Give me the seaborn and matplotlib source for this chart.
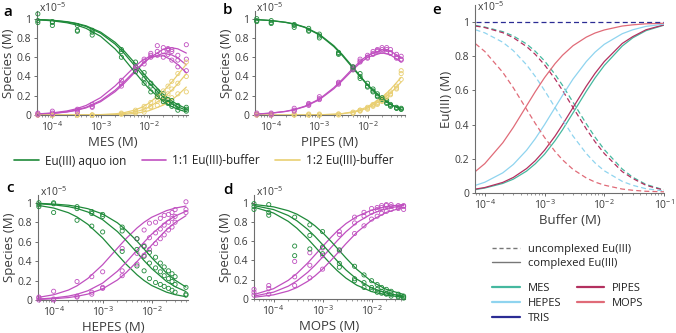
import numpy as np
import pandas as pd
import matplotlib
matplotlib.use("Agg")
import matplotlib.pyplot as plt
import seaborn as sns
from matplotlib.lines import Line2D

sns.set_theme(style="ticks")
plt.rcParams['font.family'] = ['Open Sans', 'DejaVu Sans']
plt.rcParams['mathtext.default'] = 'regular'

# colours
c_free = '#1f8a3a'
c_11 = '#c050c0'
c_12 = '#e9cf72'
c_mes = '#45b89f'
c_hepes = '#8fd4ef'
c_tris = '#2b2c94'
c_pipes = '#b3305f'
c_mops = '#e06b78'

# ---- a: MES ----
mes_x = [5e-5, 1e-4, 3.3e-4, 6.7e-4, 2.7e-3, 5.3e-3, 8e-3, 1.1e-2, 1.5e-2, 2e-2, 2.5e-2, 3e-2, 4e-2, 6e-2]
mes_free = [[1.05, 0.97, 0.93, 0.88, 0.68, 0.55, 0.44, 0.33, 0.25, 0.22, 0.16, 0.15, 0.10, 0.08],
            [0.98, 0.96, 0.88, 0.86, 0.66, 0.50, 0.38, 0.30, 0.24, 0.17, 0.13, 0.11, 0.09, 0.06],
            [0.96, 0.93, 0.87, 0.83, 0.60, 0.45, 0.33, 0.24, 0.19, 0.14, 0.12, 0.09, 0.05, 0.04]]
mes_11 = [[0.02, 0.04, 0.06, 0.11, 0.33, 0.47, 0.56, 0.62, 0.72, 0.70, 0.69, 0.68, 0.62, 0.73],
          [0.01, 0.02, 0.05, 0.09, 0.30, 0.45, 0.53, 0.60, 0.66, 0.66, 0.68, 0.66, 0.57, 0.58],
          [0.00, 0.01, 0.03, 0.08, 0.36, 0.50, 0.58, 0.64, 0.62, 0.60, 0.63, 0.57, 0.50, 0.46]]
mes_12 = [[0.00, 0.00, 0.00, 0.00, 0.01, 0.02, 0.03, 0.08, 0.10, 0.13, 0.15, 0.18, 0.22, 0.24],
          [0.00, 0.00, 0.00, 0.00, 0.01, 0.03, 0.06, 0.09, 0.14, 0.18, 0.22, 0.27, 0.33, 0.40],
          [0.00, 0.00, 0.00, 0.00, 0.02, 0.05, 0.09, 0.13, 0.19, 0.25, 0.30, 0.35, 0.43, 0.55]]
mes_fx = [5e-5, 1e-4, 2e-4, 3e-4, 5e-4, 1e-3, 2e-3, 3e-3, 5e-3, 7e-3, 1e-2, 2e-2, 3e-2, 4e-2, 6e-2]
mes_fit_free = [[.992, .984, .969, .954, .926, .861, .755, .671, .546, .459, .368, .214, .145, .107, .067],
                [.991, .983, .966, .950, .919, .849, .736, .647, .517, .427, .334, .183, .119, .084, .050],
                [.989, .978, .958, .938, .900, .817, .686, .588, .452, .363, .275, .140, .087, .059, .033]]
mes_fit_11 = [[.008, .016, .031, .046, .074, .138, .242, .322, .437, .514, .588, .684, .698, .687, .643],
              [.009, .017, .034, .050, .080, .149, .257, .339, .452, .523, .585, .641, .624, .591, .521],
              [.011, .022, .042, .062, .099, .180, .302, .388, .498, .559, .604, .615, .571, .523, .439]]
mes_fit_12 = [[0, 0, 0, 0, 0, .001, .004, .007, .016, .027, .044, .103, .157, .206, .290],
              [0, 0, 0, 0, .001, .002, .007, .014, .031, .050, .080, .176, .257, .324, .429],
              [0, 0, 0, 0, .001, .004, .012, .023, .050, .078, .121, .246, .343, .418, .527]]

# ---- b: PIPES ----
pipes_x = [5e-5, 1e-4, 3e-4, 6e-4, 1e-3, 2.5e-3, 5e-3, 7e-3, 1e-2, 1.3e-2, 1.6e-2, 2e-2, 2.5e-2, 3e-2, 4e-2, 5e-2]
pipes_free = [[1.00, 0.98, 0.94, 0.90, 0.84, 0.64, 0.49, 0.43, 0.33, 0.27, 0.22, 0.17, 0.13, 0.09, 0.07, 0.06],
              [0.98, 0.96, 0.93, 0.88, 0.82, 0.65, 0.47, 0.40, 0.30, 0.25, 0.20, 0.16, 0.15, 0.11, 0.08, 0.07],
              [0.97, 0.95, 0.91, 0.87, 0.80, 0.63, 0.50, 0.38, 0.29, 0.24, 0.19, 0.18, 0.12, 0.10, 0.07, 0.06]]
pipes_11 = [[0.02, 0.02, 0.07, 0.12, 0.19, 0.34, 0.48, 0.58, 0.62, 0.66, 0.68, 0.70, 0.70, 0.68, 0.63, 0.61],
            [0.00, 0.01, 0.05, 0.10, 0.17, 0.32, 0.50, 0.55, 0.60, 0.64, 0.66, 0.68, 0.66, 0.64, 0.60, 0.58],
            [0.01, 0.00, 0.04, 0.11, 0.16, 0.33, 0.47, 0.56, 0.59, 0.63, 0.67, 0.66, 0.68, 0.65, 0.59, 0.57]]
pipes_12 = [[0.00, 0.01, 0.01, 0.00, 0.00, 0.01, 0.03, 0.05, 0.07, 0.10, 0.13, 0.15, 0.20, 0.24, 0.30, 0.46],
            [0.01, 0.00, 0.00, 0.01, 0.00, 0.01, 0.02, 0.04, 0.08, 0.11, 0.12, 0.17, 0.18, 0.22, 0.28, 0.43],
            [0.00, 0.00, 0.00, 0.00, 0.01, 0.00, 0.02, 0.05, 0.06, 0.09, 0.11, 0.14, 0.19, 0.21, 0.27, 0.37]]
fit_x = [5e-5, 1e-4, 2e-4, 3e-4, 5e-4, 1e-3, 2e-3, 3e-3, 5e-3, 7e-3, 1e-2, 2e-2, 3e-2, 5e-2]
pipes_fit_free = [[.990, .980, .961, .943, .909, .832, .710, .617, .486, .398, .310, .169, .110, .060],
                  [.991, .981, .963, .946, .913, .838, .719, .627, .496, .406, .315, .170, .110, .058]]
pipes_fit_11 = [[.010, .020, .038, .057, .091, .166, .284, .370, .486, .557, .619, .676, .662, .597],
                [.009, .019, .037, .054, .087, .159, .273, .358, .471, .540, .599, .646, .624, .551]]
pipes_fit_12 = [[0, 0, 0, 0, .001, .002, .007, .013, .028, .045, .071, .155, .228, .343],
                [0, 0, 0, 0, .001, .002, .008, .015, .033, .054, .085, .184, .266, .391]]

# ---- c: HEPES ----
hepes_x = [5e-5, 1e-4, 3e-4, 6e-4, 1e-3, 2.5e-3, 5e-3, 7e-3, 9e-3, 1.2e-2, 1.5e-2, 1.8e-2, 2.2e-2, 2.6e-2, 3e-2, 5e-2]
hepes_free = [[0.96, 0.90, 0.82, 0.76, 0.70, 0.50, 0.35, 0.30, 0.22, 0.18, 0.16, 0.14, 0.12, 0.10, 0.08, 0.05],
              [0.98, 0.99, 0.94, 0.89, 0.86, 0.71, 0.52, 0.45, 0.38, 0.33, 0.29, 0.25, 0.22, 0.19, 0.16, 0.06],
              [1.00, 1.00, 0.96, 0.91, 0.88, 0.75, 0.63, 0.55, 0.49, 0.44, 0.38, 0.34, 0.30, 0.27, 0.24, 0.13]]
hepes_11 = [[0.03, 0.09, 0.19, 0.24, 0.29, 0.53, 0.63, 0.72, 0.79, 0.80, 0.84, 0.87, 0.88, 0.90, 0.93, 1.01],
            [0.02, 0.01, 0.04, 0.08, 0.13, 0.30, 0.48, 0.56, 0.64, 0.69, 0.73, 0.77, 0.80, 0.84, 0.86, 0.93],
            [0.00, 0.00, 0.03, 0.06, 0.12, 0.25, 0.37, 0.46, 0.52, 0.58, 0.63, 0.67, 0.72, 0.75, 0.80, 0.90]]
hepes_fit_free = [[.972, .946, .898, .854, .778, .637, .467, .369, .260, .200, .149, .081, .055, .034],
                  [.990, .979, .960, .941, .905, .826, .704, .613, .488, .405, .323, .192, .137, .087],
                  [.994, .987, .975, .962, .939, .885, .794, .719, .606, .524, .435, .278, .204, .133]]
hepes_fit_11 = [[.028, .054, .102, .146, .222, .363, .533, .631, .740, .800, .851, .919, .945, .966],
                [.010, .021, .040, .059, .095, .174, .296, .387, .512, .595, .677, .808, .863, .913],
                [.006, .013, .025, .038, .061, .115, .206, .281, .394, .476, .565, .722, .796, .867]]

# ---- d: MOPS ----
mops_x = [4e-5, 8e-5, 2.7e-4, 5.5e-4, 1e-3, 2.2e-3, 4.5e-3, 7e-3, 1e-2, 1.3e-2, 1.6e-2, 2e-2, 2.5e-2, 3.5e-2, 4.5e-2]
mops_free = [[0.93, 0.87, 0.45, 0.52, 0.47, 0.33, 0.19, 0.12, 0.10, 0.07, 0.06, 0.05, 0.03, 0.02, 0.01],
             [0.96, 0.90, 0.55, 0.66, 0.54, 0.37, 0.21, 0.17, 0.12, 0.10, 0.08, 0.06, 0.05, 0.03, 0.02],
             [0.99, 0.98, 0.85, 0.77, 0.70, 0.51, 0.34, 0.25, 0.19, 0.15, 0.12, 0.10, 0.08, 0.05, 0.03]]
mops_11 = [[0.10, 0.14, 0.39, 0.48, 0.53, 0.70, 0.85, 0.90, 0.94, 0.95, 0.97, 0.98, 0.98, 0.95, 0.97],
           [0.07, 0.11, 0.23, 0.35, 0.45, 0.67, 0.79, 0.86, 0.90, 0.93, 0.95, 0.97, 0.96, 0.97, 0.93],
           [0.04, 0.05, 0.14, 0.22, 0.31, 0.50, 0.68, 0.76, 0.83, 0.86, 0.89, 0.91, 0.93, 0.94, 0.96]]
mops_fx = [4e-5, 1e-4, 2e-4, 3e-4, 5e-4, 7e-4, 1e-3, 1.5e-3, 2e-3, 3e-3, 5e-3, 1e-2, 2e-2, 4.5e-2]
mops_fit_free = [[.954, .893, .806, .735, .625, .543, .455, .357, .294, .217, .143, .077, .040, .018],
                 [.970, .929, .867, .812, .722, .650, .565, .464, .394, .302, .206, .115, .061, .028],
                 [.982, .957, .917, .881, .816, .760, .690, .597, .526, .426, .308, .182, .100, .047]]
mops_fit_11 = [[.046, .107, .194, .265, .375, .457, .545, .643, .706, .783, .857, .923, .960, .982],
               [.030, .071, .133, .188, .278, .350, .435, .536, .606, .698, .794, .885, .939, .972],
               [.018, .043, .083, .119, .184, .240, .310, .403, .474, .574, .692, .818, .900, .953]]

# ---- e: all buffers ----
buf_x = [7e-5, 1e-4, 2e-4, 3e-4, 5e-4, 7e-4, 1e-3, 1.5e-3, 2e-3, 3e-3, 5e-3, 7e-3, 1e-2, 2e-2, 3e-2, 5e-2, 1e-1]
buf_names = ['MES', 'PIPES', 'HEPES', 'MOPS', 'TRIS']
buf_uncomplexed = [
    [.980, .971, .944, .919, .872, .829, .773, .694, .630, .531, .405, .327, .254, .140, .092, .050, .018],
    [.977, .968, .938, .909, .857, .811, .750, .667, .600, .500, .375, .300, .231, .125, .085, .045, .016],
    [.955, .937, .882, .833, .750, .682, .600, .500, .429, .333, .231, .176, .130, .068, .045, .025, .012],
    [.873, .828, .706, .616, .490, .407, .325, .243, .194, .138, .088, .064, .046, .023, .016, .010, .007],
    [1.0, 1.0, 1.0, 1.0, 1.0, 1.0, 1.0, 1.0, 1.0, 1.0, 1.0, 1.0, 1.0, 1.0, 1.0, 1.0, 1.0]]
buf_complexed = [
    [.020, .029, .056, .081, .128, .171, .227, .306, .370, .469, .595, .673, .746, .860, .908, .950, .982],
    [.023, .032, .062, .091, .143, .189, .250, .333, .400, .500, .625, .700, .769, .875, .915, .955, .984],
    [.045, .063, .118, .167, .250, .318, .400, .500, .571, .667, .769, .824, .870, .932, .955, .975, .988],
    [.127, .172, .294, .384, .510, .593, .675, .757, .806, .862, .912, .936, .954, .977, .984, .990, .993],
    None]
buf_colors = [c_mes, c_pipes, c_hepes, c_mops, c_tris]

dec_ticks = [1e-4, 1e-3, 1e-2]
dec_labels = ['10$^{-4}$', '10$^{-3}$', '10$^{-2}$']
y_ticks = [0, 0.2, 0.4, 0.6, 0.8, 1.0]
y_labels = ['0', '0.2', '0.4', '0.6', '0.8', '1']

spine_col = '#6e6e6e'
text_col = '#3c3c3c'

fig = plt.figure(figsize=(6.76, 3.33), dpi=100)
W, H = 676.0, 333.0


def px_axes(l, t, r, b):
    return fig.add_axes([l / W, 1 - b / H, (r - l) / W, (b - t) / H])


def style(ax, xlabel, xlim, ylabel, ytop, xt, xl):
    ax.set_xscale('log')
    ax.set_xlim(*xlim)
    ax.set_ylim(0, ytop)
    ax.set_xticks(xt)
    ax.set_xticklabels(xl)
    ax.set_yticks(y_ticks)
    ax.set_yticklabels(y_labels)
    ax.set_xlabel(xlabel, fontsize=9.5, color=text_col, labelpad=1)
    ax.set_ylabel(ylabel, fontsize=9.5, color=text_col, labelpad=1)
    for s in ['top', 'right']:
        ax.spines[s].set_visible(False)
    for s in ['left', 'bottom']:
        ax.spines[s].set_color(spine_col)
        ax.spines[s].set_linewidth(0.8)
    ax.tick_params(axis='both', which='major', labelsize=7.5, colors=spine_col,
                   labelcolor=text_col, length=2, width=0.7, pad=2, direction='out')
    ax.tick_params(axis='x', which='minor', length=1.5, width=0.5, colors=spine_col, direction='out')
    ax.grid(False)


def curve(ax, x, y, color, ls='-'):
    sns.lineplot(x=x, y=y, ax=ax, color=color, lw=0.9, linestyle=ls)


def dots(ax, x, y, color):
    sns.scatterplot(x=x, y=y, ax=ax, color=color, facecolors='none', edgecolor=color,
                    s=9, linewidth=0.6, clip_on=False, zorder=3)


ax_a = px_axes(37, 11, 188, 115)
ax_b = px_axes(255, 11, 405, 115)
ax_c = px_axes(38, 195, 188, 300)
ax_d = px_axes(254, 195, 405, 299)
ax_e = px_axes(475, 5, 664, 193)

# a
for k in range(3):
    curve(ax_a, mes_fx, mes_fit_12[k], c_12)
    curve(ax_a, mes_fx, mes_fit_11[k], c_11)
    curve(ax_a, mes_fx, mes_fit_free[k], c_free)
    dots(ax_a, mes_x, mes_12[k], c_12)
    dots(ax_a, mes_x, mes_11[k], c_11)
    dots(ax_a, mes_x, mes_free[k], c_free)
style(ax_a, 'MES (M)', (4.8e-5, 6.5e-2), 'Species (M)', 1.08, dec_ticks, dec_labels)

# b
for k in range(2):
    curve(ax_b, fit_x, pipes_fit_12[k], c_12)
    curve(ax_b, fit_x, pipes_fit_11[k], c_11)
    curve(ax_b, fit_x, pipes_fit_free[k], c_free)
for k in range(3):
    dots(ax_b, pipes_x, pipes_12[k], c_12)
    dots(ax_b, pipes_x, pipes_11[k], c_11)
    dots(ax_b, pipes_x, pipes_free[k], c_free)
style(ax_b, 'PIPES (M)', (4.6e-5, 6e-2), 'Species (M)', 1.08, dec_ticks, dec_labels)

# c
for k in range(3):
    curve(ax_c, fit_x, hepes_fit_11[k], c_11)
    curve(ax_c, fit_x, hepes_fit_free[k], c_free)
    dots(ax_c, hepes_x, hepes_11[k], c_11)
    dots(ax_c, hepes_x, hepes_free[k], c_free)
style(ax_c, 'HEPES (M)', (4.8e-5, 5.5e-2), 'Species (M)', 1.08, dec_ticks, dec_labels)

# d
for k in range(3):
    curve(ax_d, mops_fx, mops_fit_11[k], c_11)
    curve(ax_d, mops_fx, mops_fit_free[k], c_free)
    dots(ax_d, mops_x, mops_11[k], c_11)
    dots(ax_d, mops_x, mops_free[k], c_free)
style(ax_d, 'MOPS (M)', (4e-5, 4.8e-2), 'Species (M)', 1.08, dec_ticks, dec_labels)

# e
for name, col, unc, cpx in zip(buf_names, buf_colors, buf_uncomplexed, buf_complexed):
    curve(ax_e, buf_x, unc, col, ls=(0, (4, 2.5)))
    if cpx is not None:
        curve(ax_e, buf_x, cpx, col)
style(ax_e, 'Buffer (M)', (6.85e-5, 0.1), 'Eu(III) (M)', 1.1,
      dec_ticks + [1e-1], dec_labels + ['10$^{-1}$'])

for ax in [ax_a, ax_b, ax_c, ax_d]:
    ax.text(0.01, 1.025, 'x10$^{-5}$', transform=ax.transAxes, fontsize=7.5,
            color=text_col, va='center', ha='left')
ax_e.text(0.01, 0.99, 'x10$^{-5}$', transform=ax_e.transAxes, fontsize=7.5,
          color=text_col, va='center', ha='left')

# panel letters
for letter, (lx, ly) in zip('abcde', [(8, 12), (228, 10), (10, 188), (228, 190), (437, 10)]):
    fig.text(lx / W, 1 - ly / H, letter, fontsize=11, fontweight='semibold',
             color='black', ha='center', va='center')

# species legend
sp_handles = [Line2D([], [], color=c_free, lw=1.2),
              Line2D([], [], color=c_11, lw=1.2),
              Line2D([], [], color=c_12, lw=1.2)]
sp_labels = ['Eu(III) aquo ion', '1:1 Eu(III)-buffer', '1:2 Eu(III)-buffer']
fig.legend(sp_handles, sp_labels, loc='center', bbox_to_anchor=(204 / W, 1 - 161 / H),
           ncol=3, frameon=False, fontsize=8.5, handlelength=2.1, handletextpad=0.5,
           columnspacing=1.3, labelcolor='#222222')

# panel e legends
st_handles = [Line2D([], [], color='#777777', lw=1.0, ls=(0, (3, 2))),
              Line2D([], [], color='#777777', lw=1.0)]
fig.legend(st_handles, ['uncomplexed Eu(III)', 'complexed Eu(III)'], loc='upper left',
           bbox_to_anchor=(482 / W, 1 - 234 / H), frameon=False, fontsize=8,
           handlelength=2.5, handletextpad=0.7, labelspacing=0.25, labelcolor='#222222')
bf_handles = [Line2D([], [], color=c, lw=1.6) for c in [c_mes, c_hepes, c_tris, c_pipes, c_mops]]
fig.legend(bf_handles, ['MES', 'HEPES', 'TRIS', 'PIPES', 'MOPS'], loc='upper left',
           bbox_to_anchor=(482 / W, 1 - 273 / H), ncol=2, frameon=False, fontsize=8,
           handlelength=2.5, handletextpad=0.7, labelspacing=0.35, columnspacing=1.4,
           labelcolor='#222222')

fig.savefig('out.png', dpi=100)
